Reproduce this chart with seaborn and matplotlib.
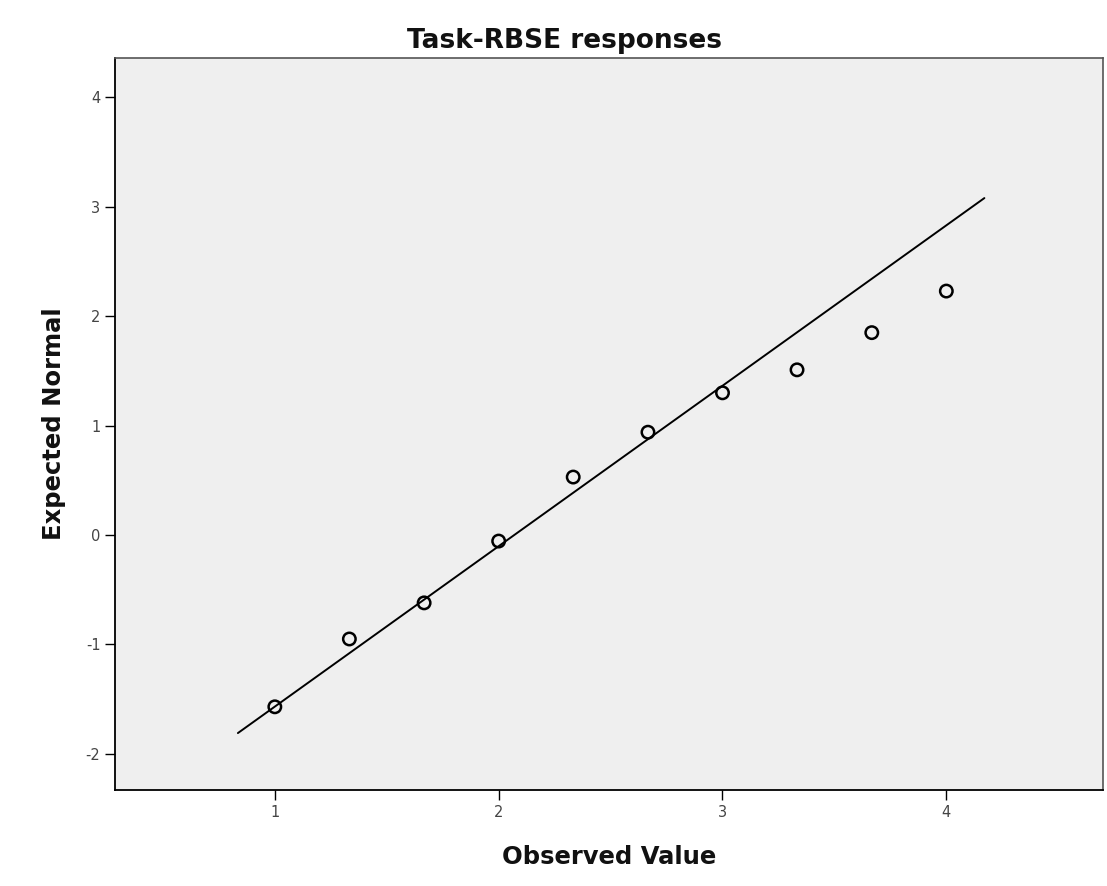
import matplotlib
matplotlib.use("Agg")
import matplotlib.pyplot as plt
import seaborn as sns
import pandas as pd

observed = [1.0, 1.333, 1.667, 2.0, 2.333, 2.667, 3.0, 3.333, 3.667, 4.0]
expected = [-1.57, -0.95, -0.62, -0.055, 0.53, 0.94, 1.30, 1.51, 1.85, 2.23]
line_x = [0.835, 4.17]
line_y = [-1.81, 3.08]
xticks = [1, 2, 3, 4]
yticks = [-2, -1, 0, 1, 2, 3, 4]

sns.set_style("white")
plt.rcParams['font.family'] = ['DejaVu Sans']
plt.rcParams['axes.unicode_minus'] = False

fig = plt.figure(figsize=(11.07, 8.86), dpi=100)
ax = fig.add_axes([0.1039, 0.1084, 0.8925, 0.8261])
ax.set_facecolor("#efefef")

df = pd.DataFrame({"Observed Value": observed, "Expected Normal": expected})
sns.lineplot(x=line_x, y=line_y, ax=ax, color="black", linewidth=1.4)
sns.scatterplot(data=df, x="Observed Value", y="Expected Normal", ax=ax,
                s=80, facecolor="none", edgecolor="black", linewidth=1.8, zorder=3)

ax.set_xlim(0.286, 4.70)
ax.set_ylim(-2.33, 4.36)
ax.set_xticks(xticks)
ax.set_yticks(yticks)
ax.tick_params(axis="both", direction="out", length=7, width=1, color="black",
               labelsize=10.5, labelcolor="#444444", bottom=True, left=True)
for side in ["left", "bottom"]:
    ax.spines[side].set_color("black")
    ax.spines[side].set_linewidth(1.3)
for side in ["top", "right"]:
    ax.spines[side].set_color("#555555")
    ax.spines[side].set_linewidth(1.2)

ax.set_xlabel("Observed Value", fontsize=17.5, fontweight="bold", labelpad=18,
              color="#111111")
ax.set_ylabel("Expected Normal", fontsize=17.5, fontweight="bold", labelpad=14,
              color="#111111")
ax.set_title("Task-RBSE responses", fontsize=19, fontweight="bold", pad=7,
             x=0.455, color="#111111")

fig.savefig("out.png", dpi=100, facecolor="white")
